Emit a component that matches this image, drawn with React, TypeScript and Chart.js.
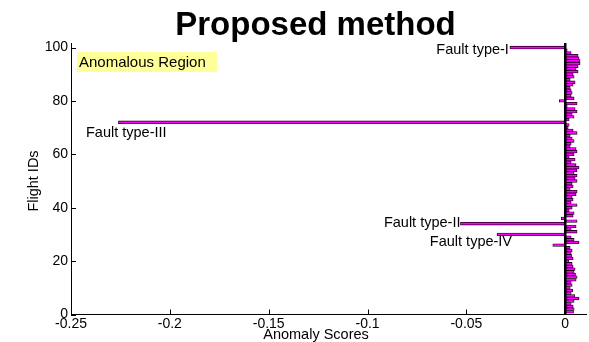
import React, { useEffect, useRef } from "react";
import { Chart, registerables } from "chart.js";

Chart.register(...registerables);

// Anomaly score per flight, flight ID 1 .. 100 in order
const anomalyScores: number[] = [
  0.0042, 0.0045, 0.004, 0.003, 0.0045, 0.007, 0.0048, 0.003, 0.0038, 0.0025,
  0.0035, 0.003, 0.0055, 0.006, 0.0052, 0.0045, 0.005, 0.004, 0.0035, 0.0018,
  0.004, 0.0032, 0.003, 0.0035, 0.0025, -0.0063, 0.007, 0.0045, 0.003, -0.0345,
  0.006, 0.003, 0.0055, -0.053, 0.006, -0.002, 0.004, 0.0045, 0.002, 0.0035,
  0.006, 0.003, 0.004, 0.0035, 0.0055, 0.006, 0.0025, 0.004, 0.0035, 0.006,
  0.005, 0.006, 0.0045, 0.006, 0.007, 0.0055, 0.003, 0.005, 0.002, 0.0045,
  0.006, 0.0055, 0.0025, 0.003, 0.0045, 0.0035, 0.0025, 0.006, 0.004, 0.0015,
  0.002, -0.226, 0.002, 0.0045, 0.0035, 0.006, 0.005, 0.001, 0.006, -0.003,
  0.0045, 0.003, 0.0035, 0.003, 0.0025, 0.004, 0.005, 0.0025, 0.0045, 0.004,
  0.0065, 0.0055, 0.0065, 0.0075, 0.0075, 0.007, 0.0065, 0.003, 0.001, -0.028,
];

const xTickValues: number[] = [-0.25, -0.2, -0.15, -0.1, -0.05, 0];
const yTickValues: number[] = [0, 20, 40, 60, 80, 100];

// Flights flagged as faults and their names
const faultIds: number[] = [100, 72, 34, 30];
const faultNames: string[] = ["Fault type-I", "Fault type-III", "Fault type-II", "Fault type-IV"];

const chartTitle = "Proposed method";
const xTitle = "Anomaly Scores";
const yTitle = "Flight IDs";
const regionLabel = "Anomalous Region";

const FONT = '"Liberation Sans", Arial, sans-serif';

const overlayPlugin = {
  id: "overlay",
  afterDatasetsDraw(chart: any) {
    const { ctx, chartArea, scales } = chart;
    const xs = scales.x;
    const ys = scales.y;
    ctx.save();

    // bar baseline at zero
    const x0 = xs.getPixelForValue(0);
    ctx.strokeStyle = "#000";
    ctx.lineWidth = 2.5;
    ctx.beginPath();
    ctx.moveTo(x0, chartArea.bottom);
    ctx.lineTo(x0, chartArea.top);
    ctx.stroke();

    // inward tick marks
    ctx.lineWidth = 1;
    yTickValues.forEach((v) => {
      const y = Math.round(ys.getPixelForValue(v)) + 0.5;
      ctx.beginPath();
      ctx.moveTo(chartArea.left, y);
      ctx.lineTo(chartArea.left + 5, y);
      ctx.stroke();
    });
    xTickValues.forEach((v) => {
      const x = Math.round(xs.getPixelForValue(v)) + 0.5;
      ctx.beginPath();
      ctx.moveTo(x, chartArea.bottom);
      ctx.lineTo(x, chartArea.bottom - 5);
      ctx.stroke();
    });

    // fault annotations
    ctx.fillStyle = "#000";
    ctx.font = `14.5px ${FONT}`;
    ctx.textBaseline = "alphabetic";
    faultIds.forEach((id, i) => {
      const v = anomalyScores[id - 1];
      const bx = xs.getPixelForValue(v);
      const by = ys.getPixelForValue(id);
      const name = faultNames[i];
      if (i === 0) {
        ctx.textAlign = "right";
        ctx.fillText(name, bx - 1, by + 6.5);
      } else if (i === 1) {
        ctx.textAlign = "left";
        ctx.fillText(name, chartArea.left + 15, by + 14.5);
      } else if (i === 2) {
        ctx.textAlign = "right";
        ctx.fillText(name, bx, by + 3.5);
      } else {
        ctx.textAlign = "right";
        ctx.fillText(name, bx + 15, by + 12);
      }
    });

    // region label box
    ctx.fillStyle = "#ffff99";
    ctx.fillRect(chartArea.left + 6, chartArea.top + 9, 140, 20);
    ctx.fillStyle = "#000";
    ctx.font = `15px ${FONT}`;
    ctx.textAlign = "left";
    ctx.fillText(regionLabel, chartArea.left + 8, chartArea.top + 24);

    // title
    ctx.font = `bold 33px ${FONT}`;
    ctx.textAlign = "center";
    ctx.fillText(chartTitle, 315.5, 35);

    // axis titles
    ctx.font = `14.5px ${FONT}`;
    ctx.fillText(xTitle, 316, 339);
    ctx.translate(38, 181);
    ctx.rotate(-Math.PI / 2);
    ctx.fillText(yTitle, 0, 0);

    ctx.restore();
  },
};

export default function App() {
  const canvasRef = useRef<HTMLCanvasElement | null>(null);

  useEffect(() => {
    const canvas = canvasRef.current;
    if (!canvas) return;
    const chart = new Chart(canvas, {
      type: "bar",
      data: {
        datasets: [
          {
            data: anomalyScores.map((v, i) => ({ x: v, y: i + 1 })),
            backgroundColor: "#ff00ff",
            borderColor: "#1a001a",
            borderWidth: 0.8,
            borderSkipped: false,
            barPercentage: 1,
            categoryPercentage: 1,
          },
        ],
      },
      options: {
        indexAxis: "y",
        responsive: false,
        animation: false,
        layout: { padding: { top: 43, right: 3, left: 0, bottom: 0 } },
        plugins: {
          legend: { display: false },
          tooltip: { enabled: false },
          title: { display: false },
        },
        scales: {
          x: {
            type: "linear",
            min: -0.25,
            max: 0.0105,
            offset: false,
            afterBuildTicks: (s: any) => {
              s.ticks = xTickValues.map((v) => ({ value: v }));
            },
            afterFit: (s: any) => {
              s.height = 27.5;
            },
            ticks: {
              color: "#000",
              font: { family: FONT, size: 14 },
              padding: 1,
              maxRotation: 0,
              autoSkip: false,
              callback: (v: any) => String(Number(v)),
            },
            grid: { drawOnChartArea: false, drawTicks: false },
            border: { display: true, color: "#000", width: 1 },
          },
          y: {
            type: "linear",
            min: 0,
            max: 101.7,
            offset: false,
            afterBuildTicks: (s: any) => {
              s.ticks = yTickValues.map((v) => ({ value: v }));
            },
            afterFit: (s: any) => {
              s.width = 71;
            },
            ticks: {
              color: "#000",
              font: { family: FONT, size: 14 },
              padding: 3,
              autoSkip: false,
              callback: (v: any) => String(v),
            },
            grid: { drawOnChartArea: false, drawTicks: false },
            border: { display: true, color: "#000", width: 1 },
          },
        },
      },
      plugins: [overlayPlugin],
    } as any);
    return () => chart.destroy();
  }, []);

  return (
    <div style={{ position: "fixed", left: 0, top: 0, width: 589, height: 342, background: "#fff" }}>
      <canvas ref={canvasRef} width={589} height={342} style={{ display: "block" }} />
    </div>
  );
}
